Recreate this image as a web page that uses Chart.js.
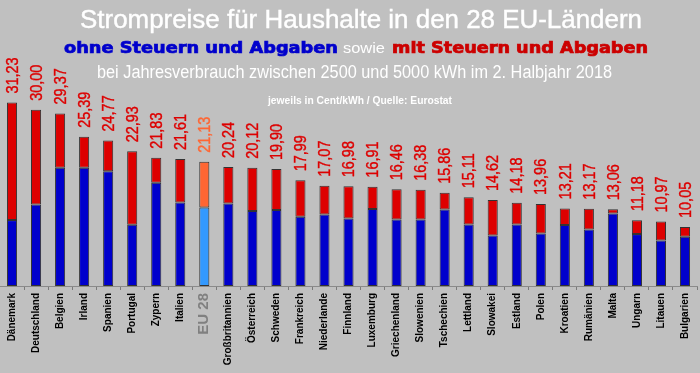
<!DOCTYPE html>
<html>
<head>
<meta charset="utf-8">
<script src="https://cdn.jsdelivr.net/npm/chart.js@4"></script>
<style>
  body { margin: 0; background: #c0c0c0; }
  canvas { display: block; }
</style>
</head>
<body>
<canvas id="myChart" width="700" height="373"></canvas>
<script>
// Strompreise Haushalte, 2. Halbjahr 2018 (Cent/kWh)
const countries = ['Dänemark', 'Deutschland', 'Belgien', 'Irland', 'Spanien', 'Portugal', 'Zypern', 'Italien', 'EU 28',
    'Großbritannien', 'Österreich', 'Schweden', 'Frankreich', 'Niederlande', 'Finnland', 'Luxemburg', 'Griechenland',
    'Slowenien', 'Tschechien', 'Lettland', 'Slowakei', 'Estland', 'Polen', 'Kroatien', 'Rumänien', 'Malta',
    'Ungarn', 'Litauen', 'Bulgarien'];

// mit Steuern und Abgaben (Gesamtpreis)
const withTaxes = [31.23, 30.00, 29.37, 25.39, 24.77, 22.93, 21.83, 21.61, 21.13, 20.24, 20.12, 19.90, 17.99, 17.07,
    16.98, 16.91, 16.46, 16.38, 15.86, 15.11, 14.62, 14.18, 13.96, 13.21, 13.17, 13.06, 11.18, 10.97, 10.05];

// ohne Steuern und Abgaben
const withoutTaxes = [11.22, 13.88, 20.11, 20.11, 19.55, 10.42, 17.56, 14.22, 13.37, 14.05, 12.75, 12.92, 11.78, 12.18,
    11.50, 13.09, 11.33, 11.33, 13.03, 10.48, 8.61, 10.48, 8.95, 10.37, 9.63, 12.35, 8.84, 7.76, 8.39];

const EU_INDEX = countries.indexOf('EU 28');
const taxPart = withTaxes.map((v, i) => +(v - withoutTaxes[i]).toFixed(2));

const BLUE = '#0000cc', RED = '#dd0000', EU_BLUE = '#3399ff', EU_ORANGE = '#ff6633';

// draw text squeezed/stretched to a given width
function fitText(ctx, text, x, y, width, font, color, stroke) {
    ctx.save();
    ctx.font = font;
    ctx.fillStyle = color;
    ctx.textAlign = 'left';
    ctx.textBaseline = 'alphabetic';
    const w = ctx.measureText(text).width;
    ctx.translate(x, y);
    ctx.scale(width / w, 1);
    ctx.fillText(text, 0, 0);
    if (stroke) {
        ctx.strokeStyle = color;
        ctx.lineWidth = stroke;
        ctx.strokeText(text, 0, 0);
    }
    ctx.restore();
}

const headerPlugin = {
    id: 'header',
    beforeDraw(chart) {
        const ctx = chart.ctx;
        ctx.save();
        ctx.fillStyle = '#c0c0c0';
        ctx.fillRect(0, 0, chart.width, chart.height);
        ctx.restore();
    },
    afterDraw(chart) {
        const ctx = chart.ctx;
        fitText(ctx, 'Strompreise für Haushalte in den 28 EU-Ländern', 80, 28, 562, '25px "Liberation Sans"', '#ffffff', 0.4);
        fitText(ctx, 'ohne Steuern und Abgaben', 64, 53, 274, 'bold 15px "DejaVu Sans"', BLUE, 0.7);
        fitText(ctx, 'sowie', 343, 53, 42, '15px "Liberation Sans"', '#ffffff');
        fitText(ctx, 'mit Steuern und Abgaben', 392, 53, 256, 'bold 15px "DejaVu Sans"', '#cc0000', 0.7);
        fitText(ctx, 'bei Jahresverbrauch zwischen 2500 und 5000 kWh im 2. Halbjahr 2018', 97, 78, 515, '18px "Liberation Sans"', '#ffffff');
        fitText(ctx, 'jeweils in Cent/kWh / Quelle: Eurostat', 268, 104, 184, 'bold 11px "Liberation Sans"', '#ffffff');
    }
};

// rotated value labels above each stacked bar
const valueLabels = {
    id: 'valueLabels',
    afterDatasetsDraw(chart) {
        const ctx = chart.ctx;
        const meta = chart.getDatasetMeta(1);
        meta.data.forEach((bar, i) => {
            const txt = withTaxes[i].toFixed(2).replace('.', ',');
            ctx.save();
            ctx.translate(bar.x + 1, bar.y - 9);
            ctx.rotate(-Math.PI / 2);
            ctx.scale(0.85, 1);
            ctx.font = '17px "Liberation Sans"';
            ctx.fillStyle = i === EU_INDEX ? EU_ORANGE : RED;
            ctx.strokeStyle = ctx.fillStyle;
            ctx.lineWidth = 0.4;
            ctx.textAlign = 'left';
            ctx.textBaseline = 'middle';
            ctx.fillText(txt, 0, 0);
            ctx.strokeText(txt, 0, 0);
            ctx.restore();
        });
    }
};

const ctx = document.getElementById('myChart').getContext('2d');
new Chart(ctx, {
    type: 'bar',
    data: {
        labels: countries,
        datasets: [{
            label: 'ohne Steuern und Abgaben',
            data: withoutTaxes,
            backgroundColor: countries.map((c, i) => i === EU_INDEX ? EU_BLUE : BLUE),
            borderColor: '#333333',
            borderWidth: 1,
            borderSkipped: false,
            barPercentage: 0.42,
            categoryPercentage: 1
        }, {
            label: 'Steuern und Abgaben',
            data: taxPart,
            backgroundColor: countries.map((c, i) => i === EU_INDEX ? EU_ORANGE : RED),
            borderColor: '#333333',
            borderWidth: 1,
            borderSkipped: false,
            barPercentage: 0.42,
            categoryPercentage: 1
        }]
    },
    options: {
        responsive: false,
        animation: false,
        layout: { padding: { top: 51, left: 0, right: 0, bottom: 0 } },
        plugins: {
            legend: { display: false },
            tooltip: { enabled: false }
        },
        scales: {
            x: {
                stacked: true,
                afterFit(scale) { scale.height = 87; },
                grid: {
                    display: true,
                    drawOnChartArea: false,
                    offset: true,
                    tickLength: 4,
                    color: '#7a7a7a'
                },
                border: { display: true, color: '#8a8a8a' },
                ticks: {
                    autoSkip: false,
                    minRotation: 90,
                    maxRotation: 90,
                    padding: 3,
                    color: (c) => c.index === EU_INDEX ? '#808080' : '#000000',
                    font: (c) => c.index === EU_INDEX
                        ? { family: 'Liberation Sans', size: 15, weight: 'bold' }
                        : { family: 'Liberation Sans', size: 10, weight: 'bold' }
                }
            },
            y: {
                stacked: true,
                display: false,
                min: 0,
                max: 40
            }
        }
    },
    plugins: [headerPlugin, valueLabels]
});
</script>
</body>
</html>
